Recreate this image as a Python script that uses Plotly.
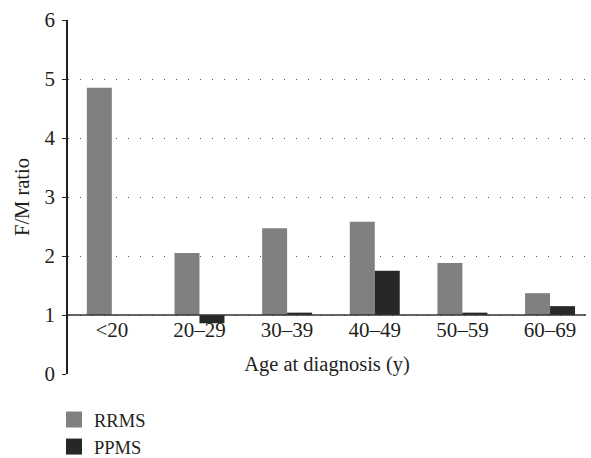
import plotly.graph_objects as go

categories = ["<20", "20–29", "30–39", "40–49", "50–59", "60–69"]
rrms = [4.85, 2.05, 2.47, 2.58, 1.88, 1.37]
ppms = [None, 0.86, 1.04, 1.75, 1.04, 1.15]
BASE = 1.0
y_ticks = [0, 1, 2, 3, 4, 5, 6]
Y_MIN, Y_MAX = 0, 6

FONT = "Liberation Serif"
FS = 21
RRMS_COLOR = "#808080"
PPMS_COLOR = "#262828"

def rel(vals):
    return [None if v is None else v - BASE for v in vals]

fig = go.Figure()
fig.add_trace(go.Bar(name="RRMS", x=categories, y=rel(rrms), base=BASE, showlegend=False,
                     marker=dict(color=RRMS_COLOR, line=dict(width=0))))
fig.add_trace(go.Bar(name="PPMS", x=categories, y=rel(ppms), base=BASE, showlegend=False,
                     marker=dict(color=PPMS_COLOR, line=dict(width=0))))
# legend keys (larger square swatches)
for name, col in (("RRMS", RRMS_COLOR), ("PPMS", PPMS_COLOR)):
    fig.add_trace(go.Scatter(name=name, x=[None], y=[None], mode="markers",
                             marker=dict(symbol="square", size=16, color=col,
                                         line=dict(width=0))))

fig.add_shape(type="line", xref="paper", x0=0, x1=1, yref="y", y0=BASE, y1=BASE,
              line=dict(color="#333333", width=1.5), layer="above")

# y-axis title
fig.add_annotation(text="F/M ratio", xref="paper", yref="paper",
                   x=-46 / 518, y=0.5, xanchor="center", yanchor="middle",
                   textangle=-90, showarrow=False,
                   font=dict(family=FONT, size=20.5, color="#231f20"))

fig.update_layout(
    width=591, height=458,
    margin=dict(l=68, r=5, t=20, b=84, autoexpand=False),
    paper_bgcolor="white", plot_bgcolor="white",
    font=dict(family=FONT, size=FS, color="#231f20"),
    barmode="group", bargap=0.43, bargroupgap=0,
    showlegend=True,
    legend=dict(xref="container", yref="container",
                x=54 / 591, y=(458 - 401) / 458, xanchor="left", yanchor="top",
                font=dict(family=FONT, size=18.5), tracegroupgap=0,
                itemsizing="trace", bgcolor="rgba(0,0,0,0)"),
    xaxis=dict(type="category", range=[-0.5, 5.41], automargin=False,
               anchor="free", position=(BASE - Y_MIN) / (Y_MAX - Y_MIN),
               showline=False, ticks="", showgrid=False,
               tickfont=dict(family=FONT, size=FS),
               title=dict(text="Age at diagnosis (y)",
                          font=dict(family=FONT, size=20.5))),
    yaxis=dict(range=[Y_MIN, Y_MAX], tickvals=y_ticks, showline=True, automargin=False,
               linecolor="#231f20", linewidth=1.5, ticks="outside", ticklen=4,
               tickcolor="#231f20", showgrid=True, gridcolor="#555555",
               gridwidth=1, griddash="1px,11px", zeroline=False,
               ticklabelstandoff=3,
               tickfont=dict(family=FONT, size=FS)),
)

fig.write_html("out.html", config={"displayModeBar": False},
               post_script="document.body.style.margin='0';document.body.style.padding='0';")
